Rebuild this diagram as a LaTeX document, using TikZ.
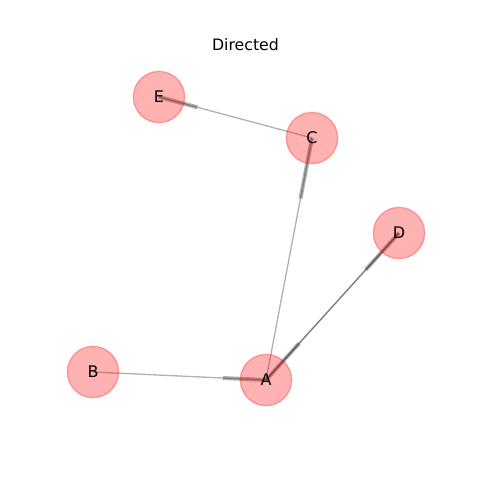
\documentclass[tikz,border=0pt]{standalone}
\usepackage{fontspec}
\setmainfont{DejaVu Sans}
\usetikzlibrary{calc}
\pgfdeclarelayer{edges}
\pgfsetlayers{edges,main}
\tikzset{
  vnode/.style={circle, minimum size=38.5pt, inner sep=0pt, fill=red, draw=red, line width=1pt, fill opacity=0.3, draw opacity=0.3, text opacity=1, font=\fontsize{12}{14}\selectfont},
  thinedge/.style={draw=black, opacity=0.3, line width=1pt},
  arrowpart/.style={draw=black, opacity=0.3, line width=3pt},
}
\begin{document}
\begin{tikzpicture}[x=0.75pt, y=-0.75pt]
\useasboundingbox (0,0) rectangle (480,480);
\node[font=\fontsize{11.8}{14}\selectfont] (title) at (245.5,45) {Directed};
\node[vnode] (E) at (159,97) {E};
\node[vnode] (C) at (312,138) {C};
\node[vnode] (D) at (399,233) {D};
\node[vnode] (B) at (93,372) {B};
\node[vnode] (A) at (266,380) {A};
\begin{pgfonlayer}{edges}
\draw[thinedge] (B.center) -- (A.center);
\draw[arrowpart] ($(B.center)!0.75!(A.center)$) -- (A.center);
\draw[thinedge] (A.center) -- (C.center);
\draw[arrowpart] ($(A.center)!0.75!(C.center)$) -- (C.center);
\draw[thinedge] (C.center) -- (E.center);
\draw[arrowpart] ($(C.center)!0.75!(E.center)$) -- (E.center);
\draw[thinedge] (A.center) -- (D.center);
\draw[arrowpart] ($(A.center)!0.75!(D.center)$) -- (D.center);
\draw[thinedge] (D.center) -- (A.center);
\draw[arrowpart] ($(D.center)!0.75!(A.center)$) -- (A.center);
\end{pgfonlayer}
\end{tikzpicture}
\end{document}
